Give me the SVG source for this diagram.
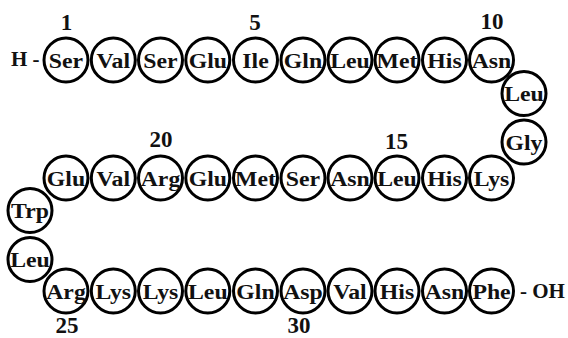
<svg xmlns="http://www.w3.org/2000/svg" width="568" height="338" viewBox="0 0 568 338">
<style>
.c{fill:#fff;stroke:#000;stroke-width:3}
.t{font-family:"Liberation Serif","Times New Roman",serif;font-weight:bold;font-size:22px;fill:#111;text-anchor:middle}
.n{font-family:"Liberation Serif","Times New Roman",serif;font-weight:bold;font-size:23px;fill:#111;text-anchor:middle}
.e{font-family:"Liberation Serif","Times New Roman",serif;font-weight:bold;font-size:21px;fill:#111}
</style>
<rect width="568" height="338" fill="#fff"/>
<g id="connectors"></g>
<g id="r1"><circle class="c" cx="66" cy="60" r="22"/><text class="t" transform="translate(66,67.5) scale(1.08,1)">Ser</text></g>
<g id="r2"><circle class="c" cx="113.3" cy="60" r="22"/><text class="t" transform="translate(113.3,67.5) scale(1.08,1)">Val</text></g>
<g id="r3"><circle class="c" cx="160.5" cy="60" r="22"/><text class="t" transform="translate(160.5,67.5) scale(1.08,1)">Ser</text></g>
<g id="r4"><circle class="c" cx="207.8" cy="60" r="22"/><text class="t" transform="translate(207.8,67.5) scale(1.08,1)">Glu</text></g>
<g id="r5"><circle class="c" cx="255.5" cy="60" r="22"/><text class="t" transform="translate(255.5,67.5) scale(1.08,1)">Ile</text></g>
<g id="r6"><circle class="c" cx="303" cy="60" r="22"/><text class="t" transform="translate(303,67.5) scale(1.08,1)">Gln</text></g>
<g id="r7"><circle class="c" cx="350" cy="60" r="22"/><text class="t" transform="translate(350,67.5) scale(1.08,1)">Leu</text></g>
<g id="r8"><circle class="c" cx="397" cy="60" r="22"/><text class="t" transform="translate(397,67.5) scale(1.08,1)">Met</text></g>
<g id="r9"><circle class="c" cx="444.5" cy="60" r="22"/><text class="t" transform="translate(444.5,67.5) scale(1.08,1)">His</text></g>
<g id="r10"><circle class="c" cx="491.5" cy="60" r="22"/><text class="t" transform="translate(491.5,67.5) scale(1.08,1)">Asn</text></g>
<g id="r11"><circle class="c" cx="524" cy="93.5" r="22"/><text class="t" transform="translate(524,101) scale(1.08,1)">Leu</text></g>
<g id="r12"><circle class="c" cx="524" cy="142" r="22"/><text class="t" transform="translate(524,149.5) scale(1.08,1)">Gly</text></g>
<g id="r13"><circle class="c" cx="491.5" cy="178" r="22"/><text class="t" transform="translate(491.5,185.5) scale(1.08,1)">Lys</text></g>
<g id="r14"><circle class="c" cx="444.5" cy="178" r="22"/><text class="t" transform="translate(444.5,185.5) scale(1.08,1)">His</text></g>
<g id="r15"><circle class="c" cx="397" cy="178" r="22"/><text class="t" transform="translate(397,185.5) scale(1.08,1)">Leu</text></g>
<g id="r16"><circle class="c" cx="350" cy="178" r="22"/><text class="t" transform="translate(350,185.5) scale(1.08,1)">Asn</text></g>
<g id="r17"><circle class="c" cx="303" cy="178" r="22"/><text class="t" transform="translate(303,185.5) scale(1.08,1)">Ser</text></g>
<g id="r18"><circle class="c" cx="255.5" cy="178" r="22"/><text class="t" transform="translate(255.5,185.5) scale(1.08,1)">Met</text></g>
<g id="r19"><circle class="c" cx="207.8" cy="178" r="22"/><text class="t" transform="translate(207.8,185.5) scale(1.08,1)">Glu</text></g>
<g id="r20"><circle class="c" cx="160.5" cy="178" r="22"/><text class="t" transform="translate(160.5,185.5) scale(1.08,1)">Arg</text></g>
<g id="r21"><circle class="c" cx="113.3" cy="178" r="22"/><text class="t" transform="translate(113.3,185.5) scale(1.08,1)">Val</text></g>
<g id="r22"><circle class="c" cx="66" cy="178" r="22"/><text class="t" transform="translate(66,185.5) scale(1.08,1)">Glu</text></g>
<g id="r23"><circle class="c" cx="30" cy="210.5" r="22"/><text class="t" transform="translate(30,218) scale(1.08,1)">Trp</text></g>
<g id="r24"><circle class="c" cx="30" cy="259.5" r="22"/><text class="t" transform="translate(30,267) scale(1.08,1)">Leu</text></g>
<g id="r25"><circle class="c" cx="66" cy="291" r="22"/><text class="t" transform="translate(66,298.5) scale(1.08,1)">Arg</text></g>
<g id="r26"><circle class="c" cx="113.3" cy="291" r="22"/><text class="t" transform="translate(113.3,298.5) scale(1.08,1)">Lys</text></g>
<g id="r27"><circle class="c" cx="160.5" cy="291" r="22"/><text class="t" transform="translate(160.5,298.5) scale(1.08,1)">Lys</text></g>
<g id="r28"><circle class="c" cx="207.8" cy="291" r="22"/><text class="t" transform="translate(207.8,298.5) scale(1.08,1)">Leu</text></g>
<g id="r29"><circle class="c" cx="255.5" cy="291" r="22"/><text class="t" transform="translate(255.5,298.5) scale(1.08,1)">Gln</text></g>
<g id="r30"><circle class="c" cx="303" cy="291" r="22"/><text class="t" transform="translate(303,298.5) scale(1.08,1)">Asp</text></g>
<g id="r31"><circle class="c" cx="350" cy="291" r="22"/><text class="t" transform="translate(350,298.5) scale(1.08,1)">Val</text></g>
<g id="r32"><circle class="c" cx="397" cy="291" r="22"/><text class="t" transform="translate(397,298.5) scale(1.08,1)">His</text></g>
<g id="r33"><circle class="c" cx="444.5" cy="291" r="22"/><text class="t" transform="translate(444.5,298.5) scale(1.08,1)">Asn</text></g>
<g id="r34"><circle class="c" cx="491.5" cy="291" r="22"/><text class="t" transform="translate(491.5,298.5) scale(1.08,1)">Phe</text></g>
<g id="termini">
<text class="e" x="11" y="66">H -</text>
<text class="e" x="520" y="298">- OH</text>
</g>
<g id="numbers">
<text class="n" x="66.5" y="30">1</text>
<text class="n" x="255" y="30">5</text>
<text class="n" x="492" y="29">10</text>
<text class="n" x="396.5" y="149">15</text>
<text class="n" x="161" y="147">20</text>
<text class="n" x="67" y="333">25</text>
<text class="n" x="299" y="333">30</text>
</g>
</svg>
